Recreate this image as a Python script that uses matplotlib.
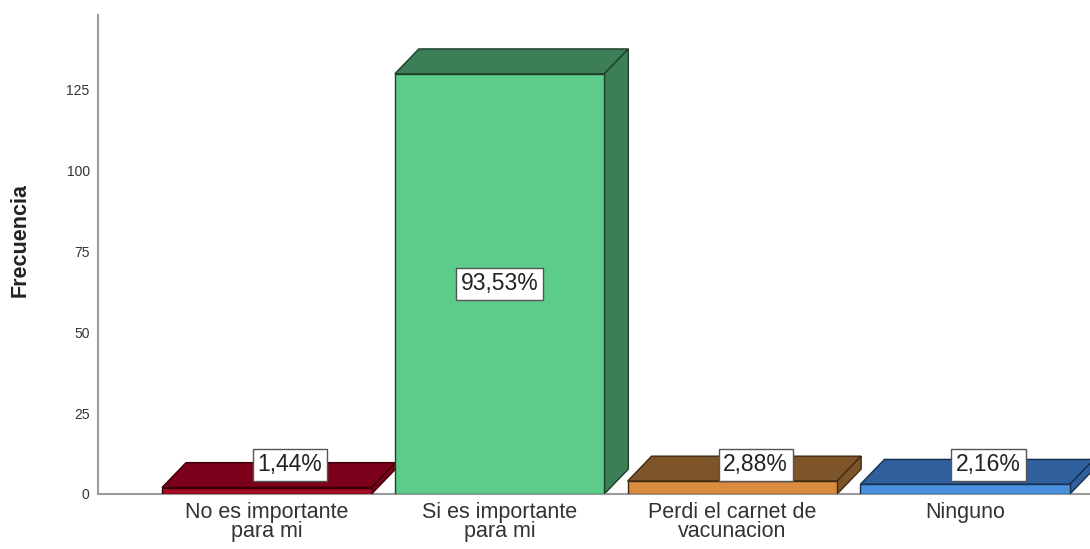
import numpy as np
import matplotlib.pyplot as plt
from matplotlib.patches import Polygon

plt.rcParams['font.family'] = ['Liberation Sans', 'DejaVu Sans']

# data
categories = ["No es importante\npara mi", "Si es importante\npara mi",
              "Perdi el carnet de\nvacunacion", "Ninguno"]
counts = [2, 130, 4, 3]
pct_labels = ["1,44%", "93,53%", "2,88%", "2,16%"]

front_colors = ["#A30D24", "#5DCB8A", "#D98B3F", "#4B90DC"]
dark_colors = ["#7C0019", "#3C7E56", "#7E5528", "#305F9E"]
edge_colors = ["#3A0008", "#1E3F2A", "#3F2A12", "#17304F"]

bar_w = 0.9
dx, dy = 0.103, 7.7   # depth offset of the 3d look, in data units

fig = plt.figure(figsize=(10.9, 5.49), dpi=100)
ax = fig.add_axes([0.0899, 0.1002, 0.9101, 0.8725])

x = np.arange(len(counts))
for i, h in enumerate(counts):
    x0, x1 = x[i] - bar_w / 2, x[i] + bar_w / 2
    ax.bar(x[i], h, width=bar_w, color=front_colors[i],
           edgecolor=edge_colors[i], linewidth=1.0, zorder=3)
    top = Polygon([(x0, h), (x1, h), (x1 + dx, h + dy), (x0 + dx, h + dy)],
                  closed=True, facecolor=dark_colors[i],
                  edgecolor=edge_colors[i], linewidth=1.0, zorder=2)
    side = Polygon([(x1, 0), (x1, h), (x1 + dx, h + dy), (x1 + dx, dy)],
                   closed=True, facecolor=dark_colors[i],
                   edgecolor=edge_colors[i], linewidth=1.0, zorder=2)
    ax.add_patch(top)
    ax.add_patch(side)

    # percentage label
    if h > 20:
        lx, ly = x[i], h / 2
    else:
        lx, ly = x[i] + 0.1, 9
    ax.text(lx, ly, pct_labels[i], ha='center', va='center', fontsize=16.5,
            color='#222222', zorder=5,
            bbox=dict(boxstyle='square,pad=0.2', facecolor='white',
                      edgecolor='#555555', linewidth=1.0))

ax.set_xlim(-0.725, 3.536)
ax.set_ylim(0, 148.2)
ax.set_yticks([0, 25, 50, 75, 100, 125])
ax.set_xticks(x)
ax.set_xticklabels(categories, fontsize=15.5, color='#333333', linespacing=0.88)
ax.tick_params(axis='y', length=0, labelsize=10, labelcolor='#333333', pad=6)
ax.tick_params(axis='x', length=0, pad=6)

ax.spines['top'].set_visible(False)
ax.spines['right'].set_visible(False)
ax.spines['left'].set_color('#9a9a9a')
ax.spines['bottom'].set_color('#9a9a9a')
ax.spines['left'].set_linewidth(1.5)
ax.spines['bottom'].set_linewidth(1.5)

ax.set_ylabel("Frecuencia", fontsize=15.5, fontweight='bold', color='#222222')
ax.yaxis.set_label_coords(-0.068, 0.53)

fig.savefig("out.png", dpi=100)
